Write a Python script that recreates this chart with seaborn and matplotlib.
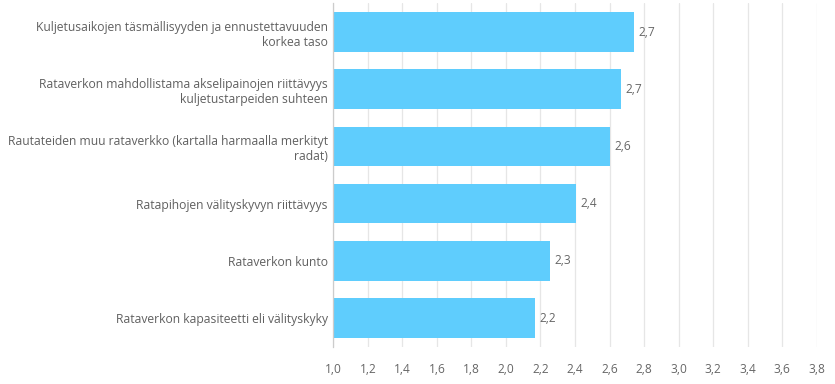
import matplotlib
matplotlib.use("Agg")
import matplotlib.pyplot as plt
import seaborn as sns
import pandas as pd
import numpy as np

categories = [
    "Kuljetusaikojen täsmällisyyden ja ennustettavuuden\nkorkea taso",
    "Rataverkon mahdollistama akselipainojen riittävyys\nkuljetustarpeiden suhteen",
    "Rautateiden muu rataverkko (kartalla harmaalla merkityt\nradat)",
    "Ratapihojen välityskyvyn riittävyys",
    "Rataverkon kunto",
    "Rataverkon kapasiteetti eli välityskyky",
]
values = [2.74, 2.665, 2.605, 2.405, 2.254, 2.171]
xticks = [1.0, 1.2, 1.4, 1.6, 1.8, 2.0, 2.2, 2.4, 2.6, 2.8, 3.0, 3.2, 3.4, 3.6, 3.8]

df = pd.DataFrame({"cat": categories, "val": values})

sns.set_theme(style="white")
plt.rcParams['font.family'] = ['Open Sans', 'DejaVu Sans']

W, H = 835, 384
fig = plt.figure(figsize=(W / 100, H / 100), dpi=100)
left, right = 333.3, 816.7
top, bottom = 3.4, 346.6
ax = fig.add_axes([left / W, 1 - bottom / H, (right - left) / W, (bottom - top) / H])

sns.barplot(data=df, y="cat", x="val", orient="h", color="#5fcdfd",
            saturation=1, width=0.69, ax=ax, edgecolor="none")

ax.set_xlim(1.0, 3.8)
ax.set_xticks(xticks)
ax.set_xticklabels([f"{t:.1f}".replace(".", ",") for t in xticks],
                   color="#666666", fontsize=8.6)
ax.tick_params(axis="x", length=0, pad=12)
ax.tick_params(axis="y", length=0, pad=4)
ax.set_yticks(range(len(categories)))
ax.set_yticklabels(categories, color="#606060", fontsize=8.7, ha="right",
                   multialignment="right")
ax.set_xlabel("")
ax.set_ylabel("")
ax.grid(axis="x", color="#e6e6e6", linewidth=0.9)
ax.set_axisbelow(True)
for s in ["top", "right", "bottom"]:
    ax.spines[s].set_visible(False)
ax.spines["left"].set_color("#cccccc")
ax.spines["left"].set_linewidth(0.9)

for i, v in enumerate(values):
    ax.text(v + 0.025, i, f"{v:.1f}".replace(".", ","), va="center", ha="left",
            color="#666666", fontsize=8.6)

fig.savefig("out.png", dpi=100)
